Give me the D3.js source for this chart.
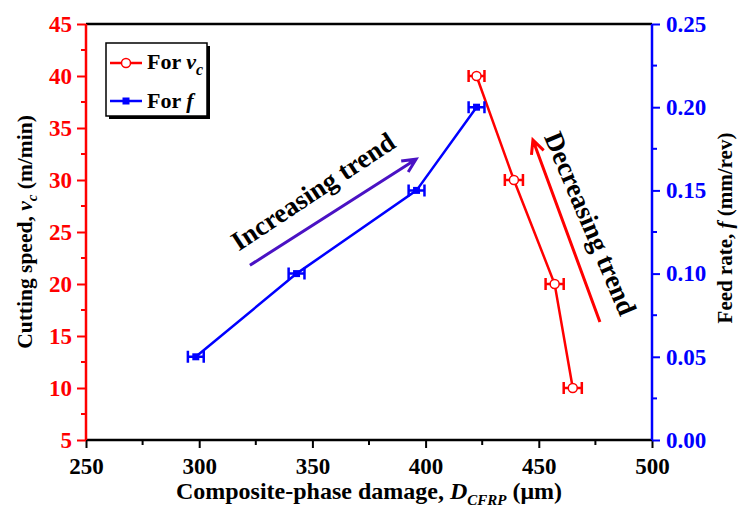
<!DOCTYPE html>
<html><head><meta charset="utf-8">
<script src="https://cdn.jsdelivr.net/npm/d3@7"></script>
<style>body{margin:0;background:#fff;} svg{display:block;font-family:"Liberation Serif","Times New Roman",serif;font-weight:bold;}</style>
</head><body>
<svg id="c" width="740" height="507"></svg>
<script>
// Data
const vcDamage = [465, 457, 439, 422.5];
const vcValues = [10, 20, 30, 40];
const vcErr = [4, 4, 4, 3.5];
const fDamage = [298.5, 343, 396, 422.5];
const fValues = [0.05, 0.10, 0.15, 0.20];
const fErr = [3.5, 3.5, 3.5, 3.5];
const xTicks = [250, 300, 350, 400, 450, 500];
const vcTicks = [5, 10, 15, 20, 25, 30, 35, 40, 45];
const fTicks = [0, 0.05, 0.10, 0.15, 0.20, 0.25];

const svg = d3.select("#c");
const L = 86, R = 652, T = 24, B = 440;
const x = d3.scaleLinear().domain([250, 500]).range([L, R]);
const yv = d3.scaleLinear().domain([5, 45]).range([B, T]);
const yf = d3.scaleLinear().domain([0, 0.25]).range([B, T]);
const RED = "#ff0000", BLUE = "#0000ff";
const TF = 23;

// top frame
svg.append("line").attr("x1", L).attr("x2", R).attr("y1", T).attr("y2", T).attr("stroke", "#000").attr("stroke-width", 2.5);

// bottom axis
const gx = svg.append("g").attr("transform", `translate(0,${B})`);
gx.call(d3.axisBottom(x).tickValues(xTicks).tickSize(8).tickPadding(10).tickFormat(d3.format("d")));
gx.selectAll(".minor").data(d3.range(275, 500, 50)).join("line").attr("class","minor")
  .attr("x1", d => x(d)).attr("x2", d => x(d)).attr("y1", 0).attr("y2", 5).attr("stroke", "#000").attr("stroke-width", 2);
gx.select(".domain").attr("stroke", "#000").attr("stroke-width", 2.5).attr("d", `M${L},0H${R}`);
gx.selectAll(".tick line").attr("stroke", "#000").attr("stroke-width", 2);
gx.selectAll(".tick text").attr("fill", "#000").attr("font-size", TF).attr("font-family", "Liberation Serif").attr("font-weight", "bold");

// left axis
const gl = svg.append("g").attr("transform", `translate(${L},0)`);
gl.call(d3.axisLeft(yv).tickValues(vcTicks).tickSize(9).tickPadding(5).tickFormat(d3.format("d")));
gl.select(".domain").attr("stroke", RED).attr("stroke-width", 2.5).attr("d", `M0,${B}V${T}`);
gl.selectAll(".tick line").attr("stroke", RED).attr("stroke-width", 2);
gl.selectAll(".tick text").attr("fill", RED).attr("font-size", TF).attr("font-family", "Liberation Serif").attr("font-weight", "bold");
gl.selectAll(".minor").data(d3.range(7.5, 45, 5)).join("line").attr("class","minor")
  .attr("x1", 0).attr("x2", -5).attr("y1", d => yv(d)).attr("y2", d => yv(d)).attr("stroke", RED).attr("stroke-width", 2);

// right axis
const gr = svg.append("g").attr("transform", `translate(${R},0)`);
gr.call(d3.axisRight(yf).tickValues(fTicks).tickSize(8).tickPadding(6).tickFormat(d3.format(".2f")));
gr.select(".domain").attr("stroke", BLUE).attr("stroke-width", 2.5).attr("d", `M0,${B}V${T}`);
gr.selectAll(".tick line").attr("stroke", BLUE).attr("stroke-width", 2);
gr.selectAll(".tick text").attr("fill", BLUE).attr("font-size", TF).attr("font-family", "Liberation Serif").attr("font-weight", "bold");
gr.selectAll(".minor").data(d3.range(0.025, 0.25, 0.05)).join("line").attr("class","minor")
  .attr("x1", 0).attr("x2", 5).attr("y1", d => yf(d)).attr("y2", d => yf(d)).attr("stroke", BLUE).attr("stroke-width", 2);

// axis titles
const lt = svg.append("text").attr("transform", `translate(32,${(T+B)/2}) rotate(-90)`)
  .attr("text-anchor", "middle").attr("font-size", 21.5).attr("fill", "#000");
lt.append("tspan").text("Cutting speed, ");
lt.append("tspan").attr("font-style", "italic").text("v");
lt.append("tspan").attr("font-style", "italic").attr("font-size", 15).attr("dy", 5).text("c");
lt.append("tspan").attr("dy", -5).text(" (m/min)");

const rt = svg.append("text").attr("transform", `translate(732,${(T+B)/2 - 4}) rotate(-90)`)
  .attr("text-anchor", "middle").attr("font-size", 21).attr("fill", "#000");
rt.append("tspan").text("Feed rate, ");
rt.append("tspan").attr("font-style", "italic").text("f");
rt.append("tspan").text(" (mm/rev)");

const bt = svg.append("text").attr("x", (L+R)/2).attr("y", 499)
  .attr("text-anchor", "middle").attr("font-size", 24).attr("fill", "#000");
bt.append("tspan").text("Composite-phase damage, ");
bt.append("tspan").attr("font-style", "italic").text("D");
bt.append("tspan").attr("font-style", "italic").attr("font-size", 15).attr("dy", 6).text("CFRP");
bt.append("tspan").attr("dy", -6).text(" (μm)");

// lines
const lineV = d3.line().x(d => x(d[0])).y(d => yv(d[1]));
const lineF = d3.line().x(d => x(d[0])).y(d => yf(d[1]));
const vcPts = vcDamage.map((d, i) => [d, vcValues[i], vcErr[i]]);
const fPts = fDamage.map((d, i) => [d, fValues[i], fErr[i]]);
svg.append("path").attr("d", lineF(fPts)).attr("fill", "none").attr("stroke", BLUE).attr("stroke-width", 2.5);
svg.append("path").attr("d", lineV(vcPts)).attr("fill", "none").attr("stroke", RED).attr("stroke-width", 2.5);

function errBars(pts, ys, col) {
  const g = svg.append("g").attr("stroke", col).attr("stroke-width", 2.5).attr("fill", "none");
  pts.forEach(p => {
    const y0 = ys(p[1]), xa = x(p[0] - p[2]), xb = x(p[0] + p[2]);
    g.append("path").attr("d", `M${xa},${y0}H${xb}M${xa},${y0-6}V${y0+6}M${xb},${y0-6}V${y0+6}`);
  });
}
errBars(fPts, yf, BLUE);
errBars(vcPts, yv, RED);
svg.append("g").selectAll("rect").data(fPts).join("rect")
  .attr("x", d => x(d[0]) - 3.5).attr("y", d => yf(d[1]) - 3.5).attr("width", 7).attr("height", 7).attr("fill", BLUE);
svg.append("g").selectAll("circle").data(vcPts).join("circle")
  .attr("cx", d => x(d[0])).attr("cy", d => yv(d[1])).attr("r", 4.5)
  .attr("fill", "#fff").attr("stroke", RED).attr("stroke-width", 1.5);

// trend arrows (annotations in data coordinates)
function arrow(x0, v0, x1, v1, col, w) {
  const ax = x(x0), ay = yv(v0), bx = x(x1), by = yv(v1);
  const ang = Math.atan2(by - ay, bx - ax);
  const h = 15, sp = Math.PI / 7;
  const p1 = [bx - h * Math.cos(ang - sp), by - h * Math.sin(ang - sp)];
  const p2 = [bx - h * Math.cos(ang + sp), by - h * Math.sin(ang + sp)];
  svg.append("path").attr("d", `M${ax},${ay}L${bx},${by}M${p1[0]},${p1[1]}L${bx},${by}L${p2[0]},${p2[1]}`)
    .attr("fill", "none").attr("stroke", col).attr("stroke-width", w).attr("stroke-linecap", "butt").attr("stroke-linejoin", "miter");
}
arrow(322.4, 21.8, 395.8, 32.0, "#4a12c4", 3);
arrow(477, 16.35, 447.4, 33.85, RED, 3);

svg.append("text").attr("transform", "translate(318,199) rotate(-33.5)").attr("text-anchor", "middle")
  .attr("font-size", 27).attr("fill", "#000").text("Increasing trend");
svg.append("text").attr("transform", "translate(582,227) rotate(67)").attr("text-anchor", "middle")
  .attr("font-size", 27).attr("fill", "#000").text("Decreasing trend");

// legend
const lg = svg.append("g");
lg.append("rect").attr("x", 109).attr("y", 46).attr("width", 101).attr("height", 73).attr("fill", "#000");
lg.append("rect").attr("x", 106).attr("y", 43).attr("width", 101).attr("height", 73).attr("fill", "#fff").attr("stroke", "#000").attr("stroke-width", 1.5);
lg.append("line").attr("x1", 110).attr("x2", 142).attr("y1", 63).attr("y2", 63).attr("stroke", RED).attr("stroke-width", 2.5);
lg.append("circle").attr("cx", 126).attr("cy", 63).attr("r", 4.5).attr("fill", "#fff").attr("stroke", RED).attr("stroke-width", 1.5);
const l1 = lg.append("text").attr("x", 147).attr("y", 69).attr("font-size", 22).attr("fill", "#000");
l1.append("tspan").text("For ");
l1.append("tspan").attr("font-style", "italic").text("v");
l1.append("tspan").attr("font-style", "italic").attr("font-size", 16).attr("dy", 6).text("c");
lg.append("line").attr("x1", 110).attr("x2", 142).attr("y1", 101).attr("y2", 101).attr("stroke", BLUE).attr("stroke-width", 2.5);
lg.append("rect").attr("x", 122.5).attr("y", 97.5).attr("width", 7).attr("height", 7).attr("fill", BLUE);
const l2 = lg.append("text").attr("x", 147).attr("y", 108).attr("font-size", 22).attr("fill", "#000");
l2.append("tspan").text("For ");
l2.append("tspan").attr("font-style", "italic").text("f");
</script>
</body></html>
